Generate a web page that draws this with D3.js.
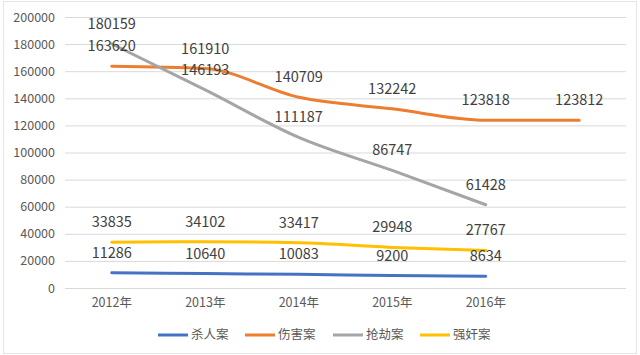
<!DOCTYPE html>
<html>
<head>
<meta charset="utf-8">
<script src="https://cdn.jsdelivr.net/npm/d3@7"></script>
<style>
  body { margin: 0; background: #fff; }
  svg text { font-family: "Noto Sans CJK SC", "Noto Sans", sans-serif; }
</style>
</head>
<body>
<div id="chart"></div>
<script>
// categories (last one has no label)
const years = ["2012年", "2013年", "2014年", "2015年", "2016年", ""];
const yTicks = [0, 20000, 40000, 60000, 80000, 100000, 120000, 140000, 160000, 180000, 200000];

const seriesNames = ["杀人案", "伤害案", "抢劫案", "强奸案"];
const seriesColors = ["#4472C4", "#ED7D31", "#A5A5A5", "#FFC000"];

const murder = [11286, 10640, 10083, 9200, 8634];
const injury = [163620, 161910, 140709, 132242, 123818, 123812];
const robbery = [180159, 146193, 111187, 86747, 61428];
const rape = [33835, 34102, 33417, 29948, 27767];

const seriesValues = [murder, injury, robbery, rape];

const width = 640, height = 355;
const margin = {top: 17, right: 14, bottom: 67, left: 65};

const svg = d3.select("#chart").append("svg")
    .attr("width", width)
    .attr("height", height);

// outer border
svg.append("rect")
    .attr("x", 3.5).attr("y", 1.5)
    .attr("width", width - 7).attr("height", height - 3)
    .attr("fill", "none")
    .attr("stroke", "#e6e6e6");

const x = d3.scaleBand()
    .domain(d3.range(years.length))
    .range([margin.left, width - margin.right]);

const y = d3.scaleLinear()
    .domain([0, 200000])
    .range([height - margin.bottom, margin.top]);

// gridlines
svg.append("g")
    .selectAll("line")
    .data(yTicks)
    .join("line")
    .attr("x1", margin.left)
    .attr("x2", width - margin.right)
    .attr("y1", d => y(d) + 0.5)
    .attr("y2", d => y(d) + 0.5)
    .attr("stroke", "#d9d9d9")
    .attr("stroke-width", 1);

// y axis labels
const yAxis = d3.axisLeft(y).tickValues(yTicks).tickFormat(d3.format("d")).tickSize(0).tickPadding(10);
const yAxisGroup = svg.append("g")
    .attr("transform", `translate(${margin.left}, 0)`)
    .call(yAxis);
yAxisGroup.select(".domain").remove();
yAxisGroup.selectAll("text")
    .attr("fill", "#595959")
    .style("font-size", "12.5px");

// x axis labels
const xAxis = d3.axisBottom(x).tickFormat(i => years[i]).tickSize(0).tickPadding(10);
const xAxisGroup = svg.append("g")
    .attr("transform", `translate(0, ${height - margin.bottom})`)
    .call(xAxis);
xAxisGroup.select(".domain").remove();
xAxisGroup.selectAll("text")
    .attr("fill", "#595959")
    .style("font-size", "12.5px");

const line = d3.line()
    .x((d, i) => x(i) + x.bandwidth() / 2)
    .y(d => y(d))
    .curve(d3.curveMonotoneX);

seriesValues.forEach((vals, s) => {
    svg.append("path")
        .datum(vals)
        .attr("d", line)
        .attr("fill", "none")
        .attr("stroke", seriesColors[s])
        .attr("stroke-width", 3)
        .attr("stroke-linecap", "round");
});

// data labels
seriesValues.forEach((vals, s) => {
    svg.append("g")
        .selectAll("text")
        .data(vals)
        .join("text")
        .attr("x", (d, i) => x(i) + x.bandwidth() / 2)
        .attr("y", d => y(d) - 15)
        .attr("text-anchor", "middle")
        .attr("fill", "#404040")
        .style("font-size", "14.5px")
        .text(d => d);
});

// legend
const legendX = [158, 245, 333, 420];
const legend = svg.append("g")
    .selectAll("g")
    .data(seriesNames)
    .join("g")
    .attr("transform", (d, i) => `translate(${legendX[i]}, 335)`);

legend.append("line")
    .attr("x1", 0).attr("x2", 30)
    .attr("stroke", (d, i) => seriesColors[i])
    .attr("stroke-width", 3);

legend.append("text")
    .attr("x", 33)
    .attr("dy", "0.35em")
    .attr("fill", "#595959")
    .style("font-size", "12.5px")
    .text(d => d);
</script>
</body>
</html>
